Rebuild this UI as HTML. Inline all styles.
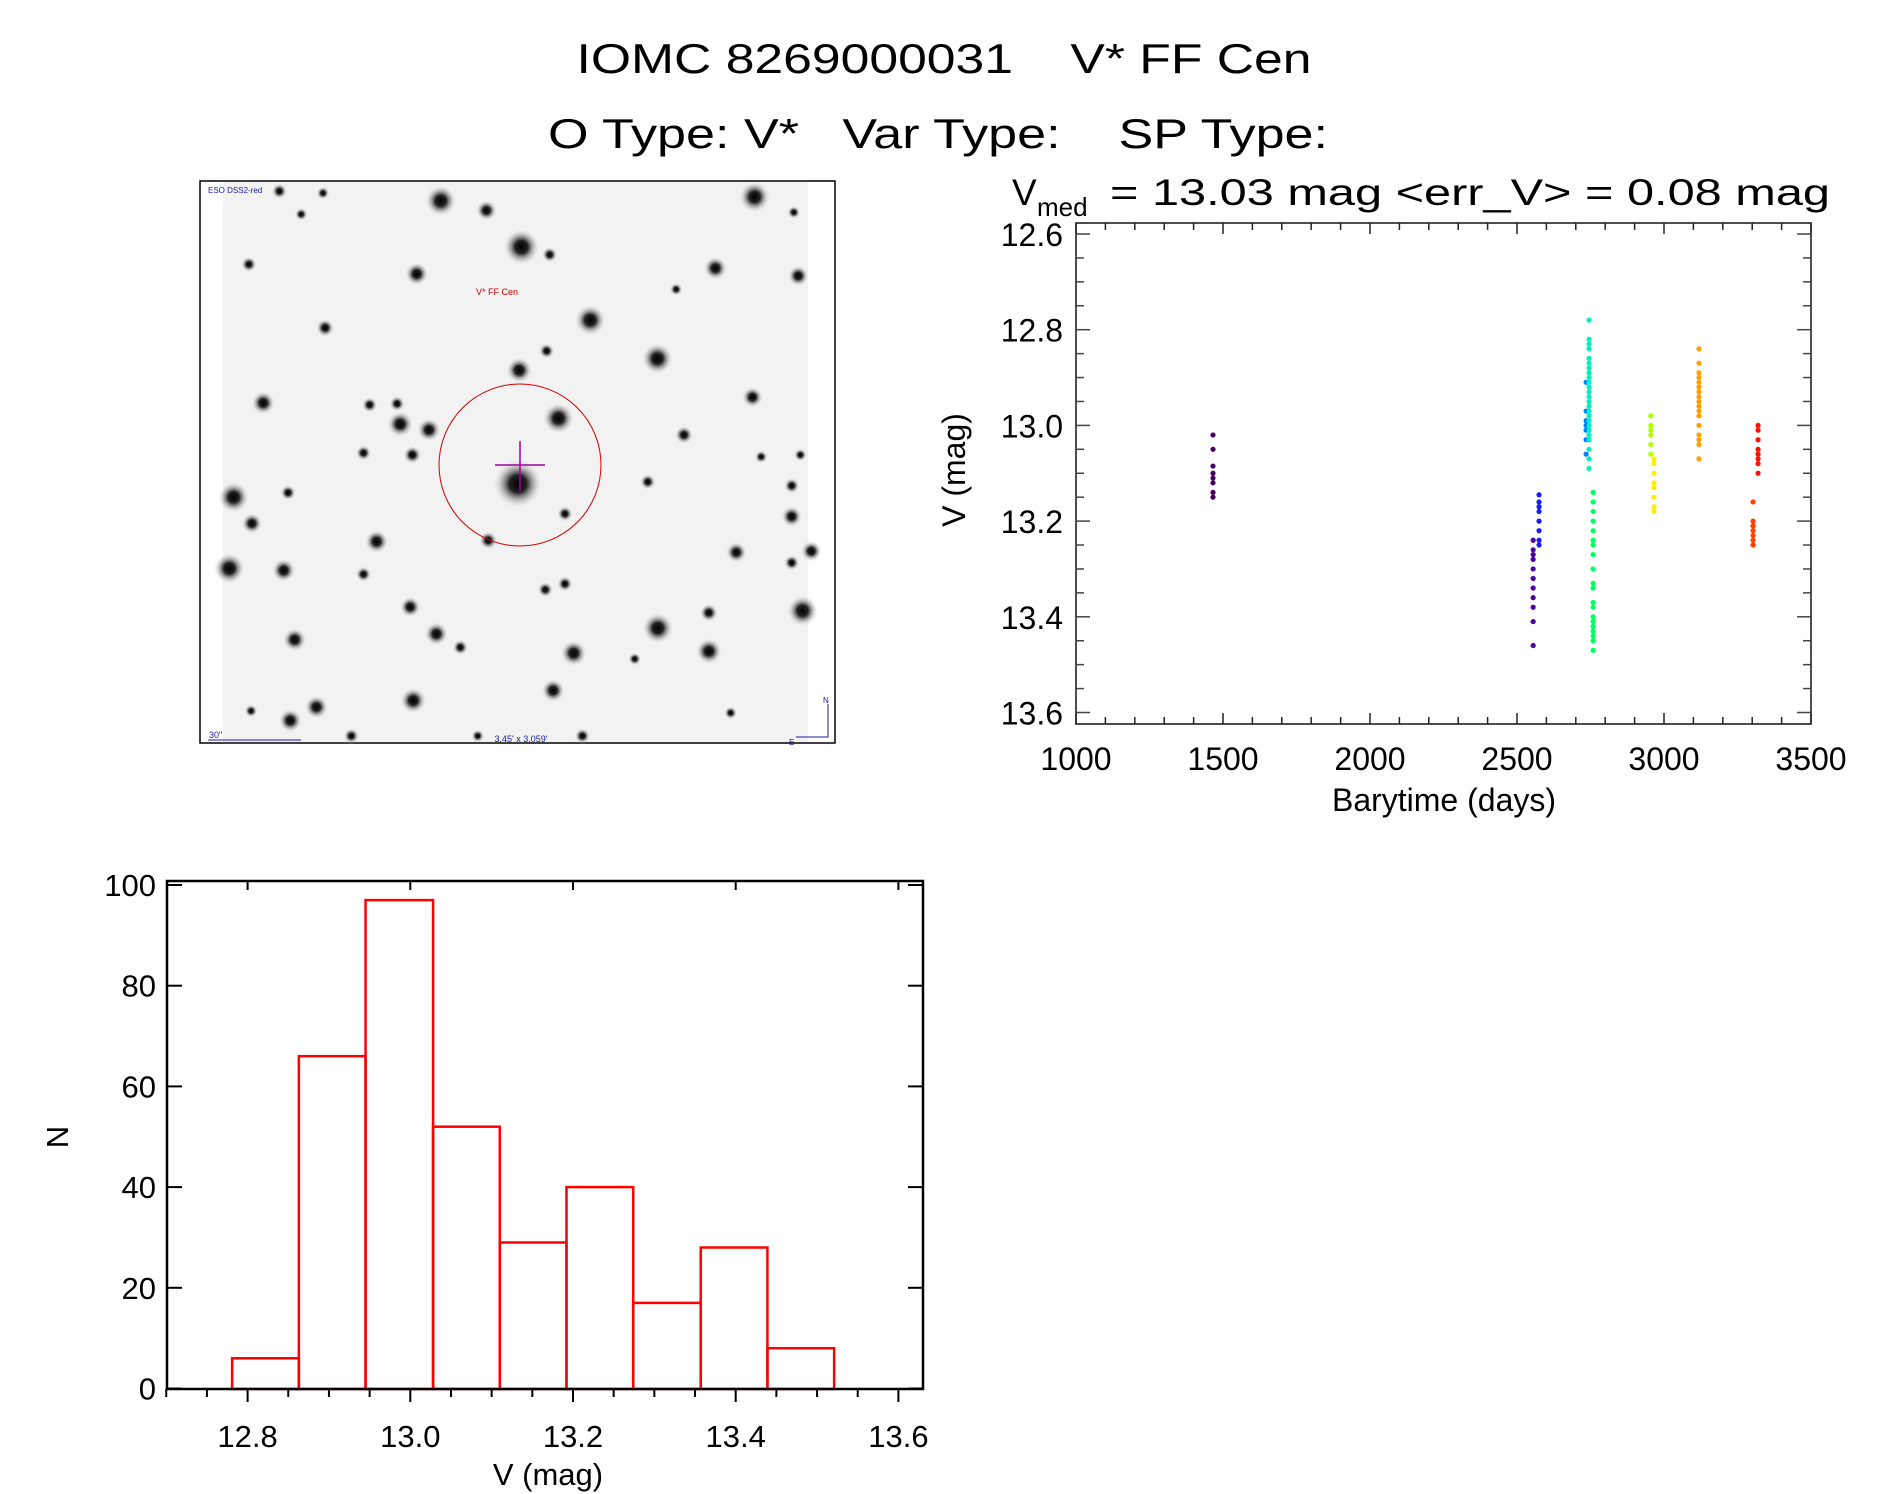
<!DOCTYPE html>
<html><head><meta charset="utf-8"><style>
html,body{margin:0;padding:0;background:#fff}
svg{display:block}
text{font-family:"Liberation Sans",sans-serif;fill:#000}
</style></head><body>
<svg id="fig" width="1889" height="1494" viewBox="0 0 1889 1494" xmlns="http://www.w3.org/2000/svg">
<defs>
<radialGradient id="star"><stop offset="0" stop-color="#000"/><stop offset="0.35" stop-color="#222"/><stop offset="1" stop-color="#eee" stop-opacity="0"/></radialGradient>
</defs>
<g>
<text x="944" y="73" font-size="42" text-anchor="middle" textLength="735" lengthAdjust="spacingAndGlyphs" xml:space="preserve">IOMC 8269000031    V* FF Cen</text>
<text x="938" y="148" font-size="42" text-anchor="middle" textLength="780" lengthAdjust="spacingAndGlyphs" xml:space="preserve">O Type: V*   Var Type:    SP Type:</text>
</g>
<g id="img">
<rect x="200" y="181" width="635" height="562" fill="#fff" stroke="#000" stroke-width="1.5"/>
<rect x="223" y="182" width="585" height="560" fill="#f2f2f2"/>
<g id="stars"></g>
<ellipse cx="520" cy="465" rx="81" ry="81" fill="none" stroke="#c00" stroke-width="1"/>
<line x1="520" y1="441" x2="520" y2="491" stroke="#a000a0" stroke-width="1.5"/>
<line x1="495" y1="465" x2="545" y2="465" stroke="#a000a0" stroke-width="1.5"/>
<text x="208" y="193" font-size="8" style="fill:#1a1aa0">ESO DSS2-red</text>
<text x="476" y="295" font-size="9" style="fill:#c00">V* FF Cen</text>
<text x="209" y="738" font-size="9" style="fill:#1a1aa0">30"</text>
<line x1="208" y1="740" x2="301" y2="740" stroke="#1a1aa0"/>
<text x="521" y="742" font-size="9" text-anchor="middle" style="fill:#1a1aa0">3.45' x 3.059'</text>
<polyline points="828,704 828,737 796,737" fill="none" stroke="#1a1aa0"/>
<text x="823" y="703" font-size="8" style="fill:#1a1aa0">N</text>
<text x="789" y="745" font-size="8" style="fill:#1a1aa0">E</text>
</g>
<g id="lc"></g>
<g id="hist"></g>
</svg>
<script>
// ---------- light curve data ----------
const lcTimes = [1466, 2555, 2575, 2735, 2745, 2759, 2955, 2966, 3119, 3303, 3320];
const lcMags = [
 [13.02,13.05,13.085,13.1,13.11,13.12,13.14,13.15],
 [13.24,13.26,13.27,13.28,13.3,13.32,13.34,13.36,13.38,13.41,13.46],
 [13.145,13.16,13.17,13.18,13.2,13.22,13.24,13.25],
 [12.91,12.97,12.99,13.0,13.01,13.03,13.06],
 [12.78,12.82,12.83,12.84,12.86,12.87,12.88,12.89,12.9,12.91,12.92,12.93,12.94,12.95,12.96,12.97,12.98,12.99,13.0,13.01,13.02,13.03,13.05,13.07,13.09],
 [13.14,13.16,13.18,13.2,13.22,13.24,13.25,13.27,13.3,13.33,13.34,13.37,13.38,13.4,13.41,13.42,13.43,13.44,13.45,13.47],
 [12.98,13.0,13.01,13.02,13.04,13.06],
 [13.07,13.08,13.1,13.12,13.13,13.15,13.17,13.18],
 [12.84,12.87,12.89,12.9,12.91,12.92,12.93,12.94,12.95,12.96,12.97,12.98,13.0,13.02,13.03,13.04,13.07],
 [13.16,13.2,13.21,13.22,13.23,13.24,13.25],
 [13.0,13.01,13.03,13.05,13.06,13.07,13.08,13.1]
];
const lcColors = ["#4b0060","#5000a8","#1a1aff","#0080ff","#00f0c0","#00ff60","#b0ff00","#ffee00","#ffa000","#ff4000","#ff1000"];
const lcXTicks = [1000,1500,2000,2500,3000,3500];
const lcYTicks = [12.6,12.8,13.0,13.2,13.4,13.6];
// ---------- histogram data ----------
const histEdges = [12.781,12.863,12.945,13.028,13.110,13.192,13.274,13.357,13.439,13.521];
const histCounts = [6,66,97,52,29,40,17,28,8];
const histXTicks = [12.8,13.0,13.2,13.4,13.6];
const histYTicks = [0,20,40,60,80,100];

const NS="http://www.w3.org/2000/svg";
function mk(tag, attrs, parent){const e=document.createElementNS(NS,tag);for(const k in attrs)e.setAttribute(k,attrs[k]);parent.appendChild(e);return e;}

// ---------- star field ----------
const starList=[[575,80,12],[680,105,8],[760,200,14],[825,220,6],[1295,70,12],[520,270,9],[1205,255,9],[1395,275,8],[135,245,6],[918,390,12],[310,410,7],[1072,490,12],[755,520,10],[818,470,6],[1290,590,8],[168,605,9],[412,610,6],[475,607,6],[482,660,10],[548,675,9],[845,645,12],[510,740,7],[398,735,6],[1133,688,7],[752,815,19],[100,850,12],[142,918,8],[225,838,6],[428,965,9],[684,962,7],[860,893,6],[1253,993,8],[1380,900,8],[1425,990,8],[90,1035,12],[215,1040,9],[398,1050,6],[505,1135,8],[815,1090,6],[860,1075,6],[1190,1150,7],[1405,1145,12],[240,1220,9],[565,1205,9],[1073,1190,12],[880,1255,10],[1190,1250,10],[290,1395,9],[230,1430,9],[512,1378,10],[833,1352,9],[370,1470,6],[900,1470,6],[1380,820,6],[1050,810,6],[1020,1270,5],[140,1405,5],[620,1240,6],[1400,740,5],[1310,745,5],[1240,1410,5],[660,1470,5],[1380,1020,6],[205,55,6],[305,60,5],[255,115,5],[1385,110,5],[1115,310,5]];
const sg=document.getElementById('stars');
starList.forEach(s=>{
 const c=mk('circle',{cx:190+s[0]*0.436,cy:170+s[1]*0.385,r:s[2]*1.3,fill:'url(#star)'},sg);
 
 
});

// ---------- light curve ----------
(function(){
 const g=document.getElementById('lc');
 const L=1076,R=1811,T=223,B=724;
 const x=t=>L+(t-1000)*(R-L)/2500;
 const y=m=>234+(m-12.6)*478.5;
 const frame=mk('rect',{x:L,y:T,width:R-L,height:B-T,fill:'none',stroke:'#222','stroke-width':1.6},g);
 
 
 for(let t=1000;t<=3500;t+=100){
  const maj=(t%500===0), len=maj?11:7, xx=x(t);
  const a=mk('line',{x1:xx,y1:B,x2:xx,y2:B-len,stroke:'#222','stroke-width':1.5},g);
  
  
  const b=mk('line',{x1:xx,y1:T,x2:xx,y2:T+len,stroke:'#222','stroke-width':1.5},g);
  
  
 }
 for(let i=0;i<=20;i++){
  const m=12.6+i*0.05, yy=y(m), len=(i%4===0)?14:8;
  if(yy<T||yy>B) continue;
  const a=mk('line',{x1:L,y1:yy,x2:L+len,y2:yy,stroke:'#444','stroke-width':1.5},g);
  
  
  const b=mk('line',{x1:R,y1:yy,x2:R-len,y2:yy,stroke:'#444','stroke-width':1.5},g);
  
  
 }
 lcXTicks.forEach(t=>{
  const e=mk('text',{x:x(t),y:770,'font-size':32,'text-anchor':'middle'},g);e.textContent=t;
  
  
 });
 lcYTicks.forEach(m=>{
  const e=mk('text',{x:1063,y:y(m)+12,'font-size':32,'text-anchor':'end'},g);e.textContent=m.toFixed(1);
  
  
 });
 lcTimes.forEach((t,gi)=>{
  lcMags[gi].forEach(m=>{
   const d=mk('circle',{cx:x(t),cy:y(m),r:2.6,fill:lcColors[gi]},g);
   
   
  });
 });
 const t0=mk('text',{x:1012,y:205,'font-size':37},g);t0.textContent='V';
 
 
 const ts=mk('text',{x:1037,y:216,'font-size':26},g);ts.textContent='med';
 
 
 const t1=mk('text',{x:1830,y:205,'font-size':37,'text-anchor':'end',textLength:720,lengthAdjust:'spacingAndGlyphs','xml:space':'preserve'},g);
 t1.textContent='  =  13.03 mag <err_V>  =  0.08 mag';
 
 
 const xl=mk('text',{x:1444,y:811,'font-size':32,'text-anchor':'middle'},g);xl.textContent='Barytime (days)';
 
 
 const yl=mk('text',{x:0,y:0,'font-size':32,'text-anchor':'middle',transform:'translate(965,470) rotate(-90)'},g);yl.textContent='V (mag)';
 
 
})();

// ---------- histogram ----------
(function(){
 const g=document.getElementById('hist');
 const L=167,R=923,T=881,B=1389;
 const x=v=>247.6+(v-12.8)*813.5;
 const y=n=>1388.5-n*5.035;
 histCounts.forEach((n,i)=>{
  const x0=x(histEdges[i]),x1=x(histEdges[i+1]);
  const r=mk('rect',{x:x0,y:y(n),width:x1-x0,height:B-y(n),fill:'none',stroke:'#ff0000','stroke-width':2.5},g);
  
  
 });
 const f=mk('rect',{x:L,y:T,width:R-L,height:B-T,fill:'none',stroke:'#000','stroke-width':2.5},g);
 
 
 for(let i=0;i<=18;i++){
  const v=12.7+i*0.05, xx=x(v); if(xx<L-1||xx>R+1) continue;
  const maj=(i%4===2), len=maj?13:8;
  const a=mk('line',{x1:xx,y1:B,x2:xx,y2:B+len,stroke:'#000','stroke-width':2},g);
  
  
  if(maj){
   const b=mk('line',{x1:xx,y1:T,x2:xx,y2:T+9,stroke:'#000','stroke-width':2},g);
   
   
  }
 }
 histXTicks.forEach(v=>{
  const e=mk('text',{x:x(v),y:1447,'font-size':31,'text-anchor':'middle'},g);e.textContent=v.toFixed(1);
  
  
 });
 histYTicks.forEach(n=>{
  const yy=y(n);
  const a=mk('line',{x1:L,y1:yy,x2:L+15,y2:yy,stroke:'#000','stroke-width':2},g);
  
  
  const b=mk('line',{x1:R,y1:yy,x2:R-15,y2:yy,stroke:'#000','stroke-width':2},g);
  
  
  const e=mk('text',{x:156,y:yy+11,'font-size':31,'text-anchor':'end'},g);e.textContent=n;
  
  
 });
 const xl=mk('text',{x:548,y:1485,'font-size':31,'text-anchor':'middle'},g);xl.textContent='V (mag)';
 
 
 const yl=mk('text',{x:0,y:0,'font-size':31,'text-anchor':'middle',transform:'translate(68,1137) rotate(-90)'},g);yl.textContent='N';
 
 
})();
</script>
</body></html>
